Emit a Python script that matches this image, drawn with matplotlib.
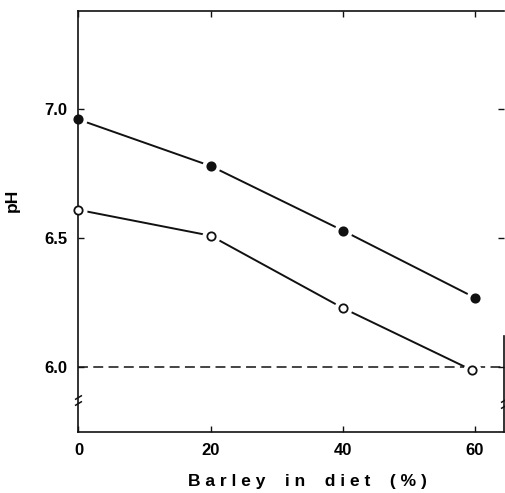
import matplotlib
matplotlib.use('Agg')
import matplotlib.pyplot as plt

# pH against barley level in the diet
barley_filled = [0, 20, 40, 60]
ph_filled = [6.96, 6.78, 6.53, 6.27]
barley_open = [0, 20, 40, 59.5]
ph_open = [6.61, 6.51, 6.23, 5.99]
ph_reference = 6.0

x_ticks = [0, 20, 40, 60]
y_ticks = [6.0, 6.5, 7.0]
y_tick_labels = ['6.0', '6.5', '7.0']

ink = '#111111'
plt.rcParams['font.family'] = ['Liberation Sans', 'DejaVu Sans']

fig = plt.figure(figsize=(5.05, 4.93), dpi=100)
ax = fig.add_axes([0.1554, 0.1237, 0.8426, 0.854])

# dashed reference line at pH 6.0
ax.axhline(ph_reference, color=ink, lw=1.1, dashes=(6.5, 3.5), zorder=2)

for xs, ys, face in [(barley_filled, ph_filled, ink), (barley_open, ph_open, 'white')]:
    ax.plot(xs, ys, color=ink, lw=1.4, zorder=2, solid_capstyle='butt')
    # white halo so the line stops short of each marker
    ax.plot(xs, ys, ls='none', marker='o', ms=12, mfc='white', mec='white',
            zorder=2.2, clip_on=False)
    ax.plot(xs, ys, ls='none', marker='o', ms=6, mfc=face, mec=ink, mew=1.3,
            zorder=3, clip_on=False)

ax.set_xlim(0, 64.4)
ax.set_ylim(5.75, 7.38)
ax.set_xticks(x_ticks)
ax.set_xticklabels([str(v) for v in x_ticks])
ax.set_yticks(y_ticks)
ax.set_yticklabels(y_tick_labels)

ax.tick_params(direction='in', top=True, right=True, length=4, width=1.0,
               color=ink, labelsize=12, pad=8)
for lab in ax.get_xticklabels() + ax.get_yticklabels():
    lab.set_fontweight('bold')

for side in ['left', 'bottom', 'top', 'right']:
    ax.spines[side].set_linewidth(1.2)
    ax.spines[side].set_color(ink)
ax.spines['right'].set_bounds(5.75, 6.12)

# axis break marks on both vertical spines
brk = dict(marker=[(-1, -0.6), (1, 0.6)], markersize=5, linestyle='none',
           color=ink, mec=ink, mew=1.1, clip_on=False, transform=ax.transAxes)
ax.plot([0, 0], [0.068, 0.082], **brk)
ax.plot([1, 1], [0.062, 0.076], **brk)

ax.set_ylabel('pH', fontsize=12.5, fontweight='bold')
ax.yaxis.set_label_coords(-0.137, 0.551)
ax.set_xlabel('B a r l e y    i n    d i e t    ( % )', fontsize=12.5, fontweight='bold')
ax.xaxis.set_label_coords(0.539, -0.1)

fig.savefig('out.png', dpi=100, facecolor='white')
